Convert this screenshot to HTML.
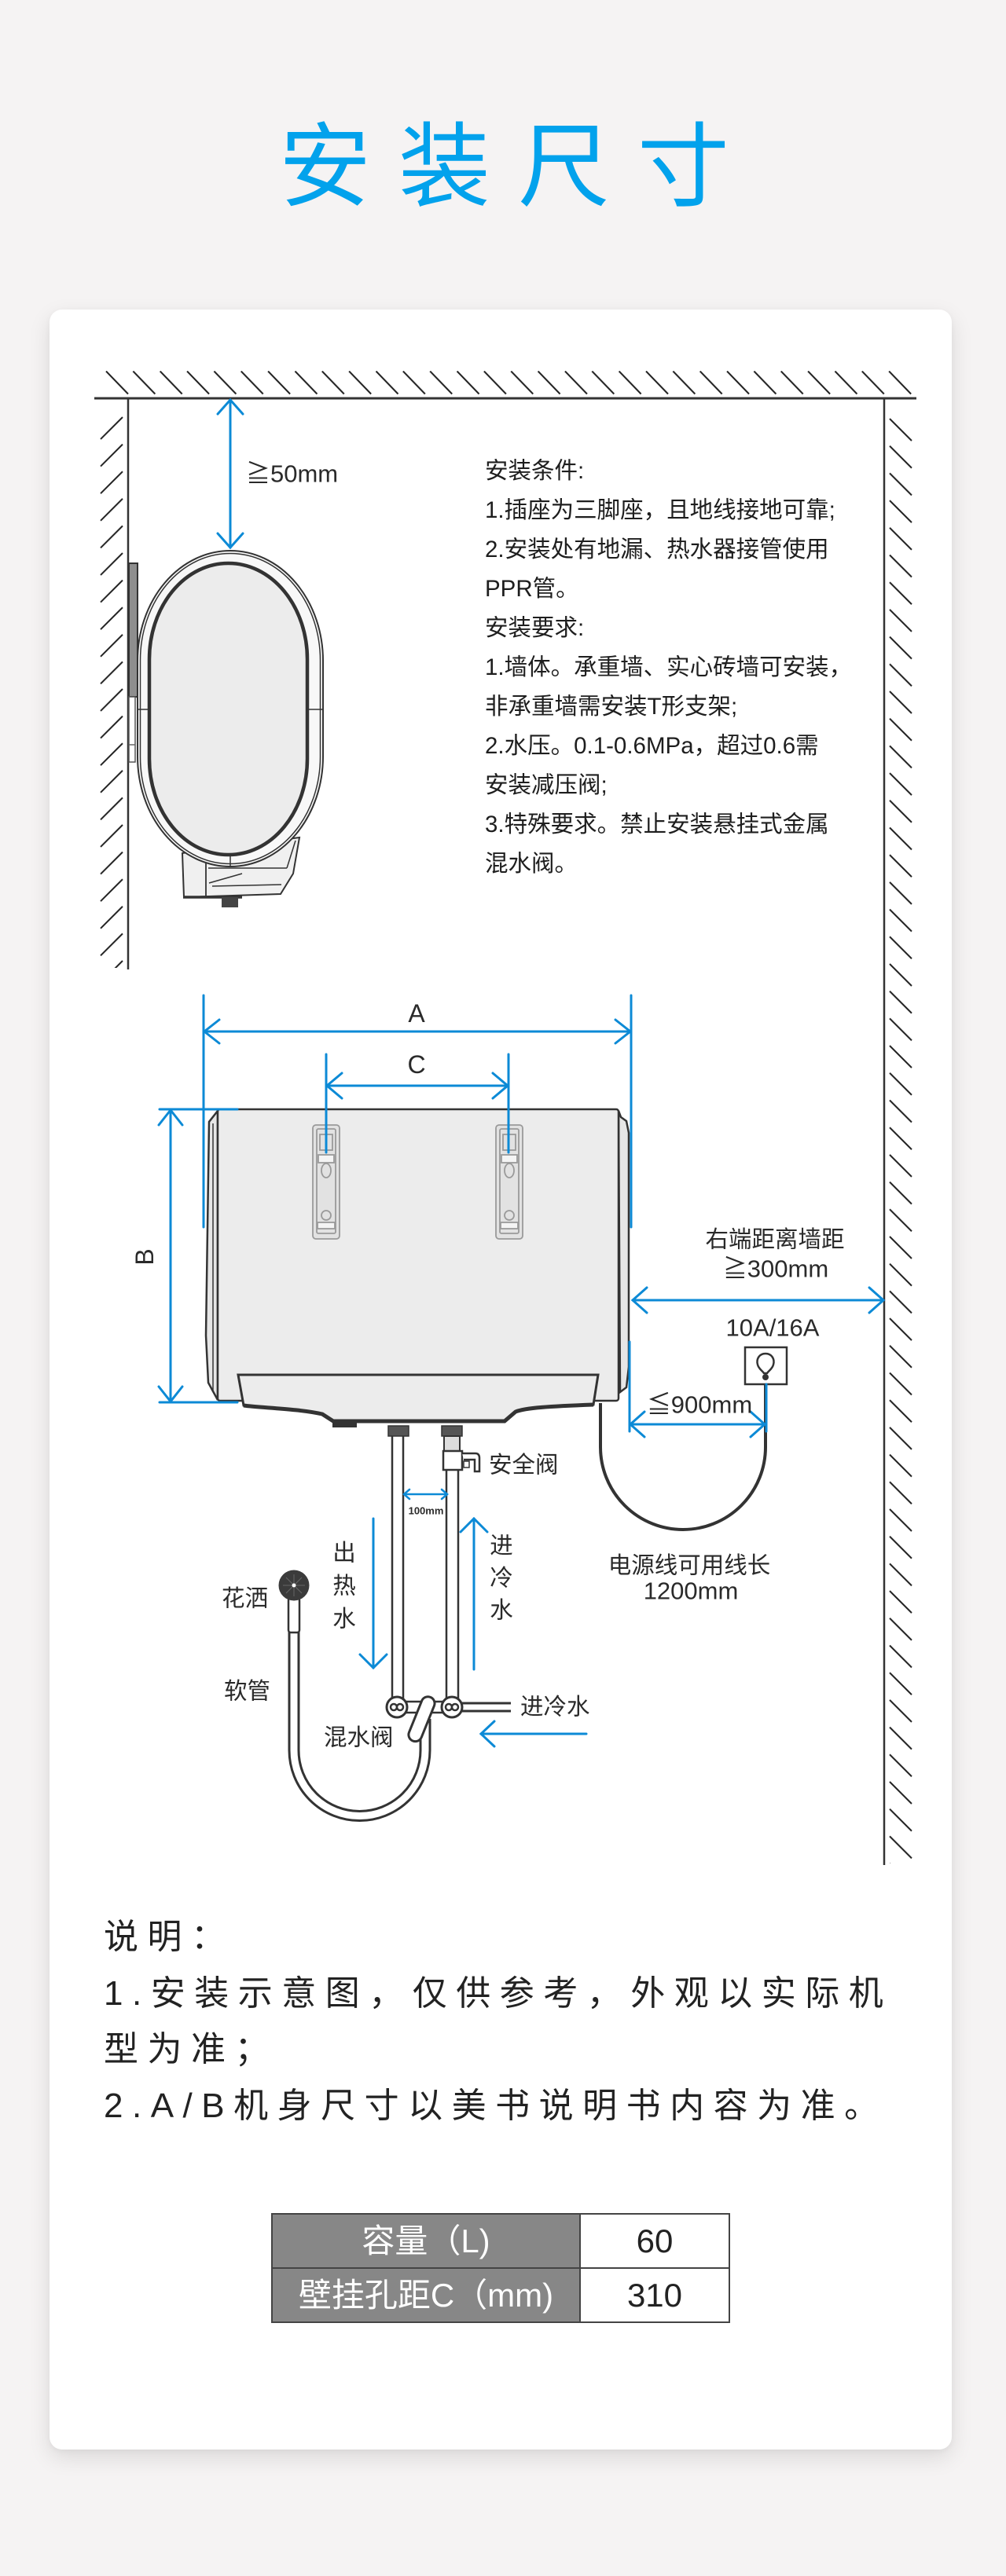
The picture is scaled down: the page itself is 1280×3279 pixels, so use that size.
<!DOCTYPE html>
<html>
<head>
<meta charset="utf-8">
<style>
  html,body{margin:0;padding:0;}
  body{width:1280px;height:3279px;background:#f5f3f3;position:relative;overflow:hidden;
       font-family:"Liberation Sans","Noto Sans CJK SC",sans-serif;}
  .title{position:absolute;left:355px;top:154px;height:117px;line-height:117px;font-size:117px;
         letter-spacing:35px;color:#02a2ec;white-space:nowrap;font-weight:400;
         font-family:"Liberation Sans","Noto Sans CJK SC",sans-serif;}
  .card{position:absolute;left:63px;top:394px;width:1148px;height:2724px;background:#fff;
        border-radius:16px;box-shadow:0 10px 28px rgba(0,0,0,0.11),0 2px 8px rgba(0,0,0,0.04);}
  .req{position:absolute;left:617px;top:575px;font-size:29.5px;line-height:50px;color:#1e1e1e;white-space:pre;font-weight:400;}
  .note{position:absolute;left:132px;top:2430px;font-size:44px;line-height:71.5px;letter-spacing:11.5px;color:#222;white-space:pre;}
  table{position:absolute;left:345px;top:2817px;border-collapse:collapse;}
  td{border:2px solid #444;height:67px;padding:0;text-align:center;font-size:42px;line-height:67px;white-space:nowrap;}
  td.h{background:#878787;color:#fff;width:390px;}
  td.v{background:#fff;color:#222;width:188px;}
  svg{position:absolute;left:0;top:0;}
</style>
</head>
<body>
<div class="title">安装尺寸</div>
<div class="card"></div>

<svg width="1280" height="3279" viewBox="0 0 1280 3279" xmlns="http://www.w3.org/2000/svg">
  <defs>
    <pattern id="ht" patternUnits="userSpaceOnUse" x="134" y="472" width="34.35" height="31">
      <line x1="1" y1="0.5" x2="29" y2="29.5" stroke="#222" stroke-width="2"/>
    </pattern>
    <pattern id="hl" patternUnits="userSpaceOnUse" x="127" y="530" width="31" height="34.6">
      <line x1="29" y1="1" x2="1" y2="29" stroke="#222" stroke-width="2"/>
    </pattern>
    <pattern id="hr" patternUnits="userSpaceOnUse" x="1130" y="532" width="31" height="34.7">
      <line x1="2" y1="1" x2="30" y2="29" stroke="#222" stroke-width="2"/>
    </pattern>
  </defs>

  <!-- walls -->
  <rect x="134" y="472" width="1028" height="31" fill="url(#ht)"/>
  <rect x="127" y="530" width="31" height="702" fill="url(#hl)"/>
  <rect x="1130" y="532" width="31" height="1840" fill="url(#hr)"/>
  <line x1="120" y1="507" x2="1166" y2="507" stroke="#333" stroke-width="3"/>
  <line x1="163" y1="507" x2="163" y2="1234" stroke="#333" stroke-width="2.5"/>
  <line x1="1125" y1="507" x2="1125" y2="2374" stroke="#333" stroke-width="2.5"/>

  <!-- side view heater -->
  <g stroke="#333">
    <rect x="164" y="717" width="11" height="170" fill="#8e8e8e" stroke-width="2"/>
    <rect x="164" y="887" width="8" height="83" fill="#fff" stroke="#555" stroke-width="1.5"/>
    <line x1="164" y1="948" x2="172" y2="948" stroke="#666" stroke-width="1.5"/>
    <polygon points="232,1086 381,1066 373,1112 357,1138 234,1142" fill="#f0f0f0" stroke-width="2"/>
    <line x1="262" y1="1090" x2="262" y2="1141" stroke-width="1.8"/>
    <line x1="265" y1="1105" x2="365" y2="1105" stroke-width="1.5"/>
    <line x1="266" y1="1124" x2="308" y2="1112" stroke-width="1.5"/>
    <line x1="270" y1="1128" x2="358" y2="1126" stroke-width="1.5"/>
    <line x1="365" y1="1105" x2="376" y2="1070" stroke-width="1.5"/>
    <line x1="233" y1="1142" x2="308" y2="1142" stroke-width="3.5"/>
    <rect x="282" y="1142" width="21" height="13" fill="#444" stroke="none"/>
    <rect x="175" y="701" width="236" height="402" rx="118" ry="140" fill="#f8f8f8" stroke-width="2"/>
    <rect x="178.5" y="704.5" width="229" height="395" rx="114" ry="136" fill="none" stroke-width="1.5"/>
    <rect x="190" y="717" width="201" height="371" rx="100" ry="122" fill="#ececec" stroke-width="4.5"/>
    <line x1="175" y1="903" x2="190" y2="903" stroke-width="1.5"/>
    <line x1="391" y1="903" x2="411" y2="903" stroke-width="1.5"/>
    <line x1="293" y1="1088" x2="293" y2="1103" stroke-width="1.5"/>
  </g>

  <!-- >=50mm -->
  <g stroke="#0c8ad6" stroke-width="3" fill="none" stroke-linecap="round">
    <line x1="293" y1="509" x2="293" y2="697"/>
    <polyline points="277,527 293,509 309,527"/>
    <polyline points="277,679 293,697 309,679"/>
  </g>
  <text x="313" y="603" font-size="31" fill="#2a2a2a" dominant-baseline="central" font-family="'Liberation Sans','Noto Sans CJK SC',sans-serif">≧50mm</text>

  <!-- front heater body -->
  <g stroke="#333">
    <path d="M277 1414 L266 1428 L262 1700 L265 1760 L277 1782 Z" fill="#e6e6e6" stroke-width="2.5"/>
    <line x1="271" y1="1430" x2="271" y2="1772" stroke-width="1.5"/>
    <path d="M787 1414 L790 1422 L797 1427 L800 1442 L800 1740 L797 1766 L789 1772 Z" fill="#e6e6e6" stroke-width="2.5"/>
    <rect x="277" y="1412" width="510" height="371" rx="3" fill="#ececec" stroke-width="2.5"/>
    <path d="M303 1750 L761 1750 L755 1788 C700 1790 668 1792 656 1797 L642 1809 L424 1809 L410 1800 C380 1793 330 1792 310 1789 Z" fill="#ececec" stroke-width="3"/>
    <path d="M310 1789 C330 1792 380 1793 410 1800 L424 1809 L642 1809 L656 1797 C668 1792 700 1790 755 1788" fill="none" stroke-width="5"/>
    <rect x="423" y="1809" width="31" height="8" fill="#333" stroke="none"/>
  </g>

  <!-- wall brackets -->
  <g fill="none" stroke="#9a9a9a" stroke-width="1.8">
    <rect x="398" y="1432" width="34" height="145" rx="4" fill="#e2e2e2"/>
    <rect x="403" y="1437" width="24" height="133" rx="2"/>
    <rect x="407" y="1444" width="16" height="20"/>
    <rect x="405" y="1470" width="20" height="10" fill="#f4f4f4"/>
    <ellipse cx="415" cy="1490" rx="6" ry="9"/>
    <circle cx="415" cy="1547" r="6"/>
    <rect x="404" y="1556" width="22" height="8" fill="#f4f4f4"/>
    <rect x="631" y="1432" width="34" height="145" rx="4" fill="#e2e2e2"/>
    <rect x="636" y="1437" width="24" height="133" rx="2"/>
    <rect x="640" y="1444" width="16" height="20"/>
    <rect x="638" y="1470" width="20" height="10" fill="#f4f4f4"/>
    <ellipse cx="648" cy="1490" rx="6" ry="9"/>
    <circle cx="648" cy="1547" r="6"/>
    <rect x="637" y="1556" width="22" height="8" fill="#f4f4f4"/>
  </g>

  <!-- pipes -->
  <g stroke="#333">
    <rect x="499" y="1826" width="14" height="338" fill="#fff" stroke-width="2.5"/>
    <rect x="568" y="1870" width="15" height="294" fill="#fff" stroke-width="2.5"/>
    <rect x="494" y="1815" width="26" height="13" fill="#555" stroke-width="1.5"/>
    <rect x="562" y="1815" width="26" height="13" fill="#555" stroke-width="1.5"/>
    <rect x="565" y="1828" width="20" height="19" fill="#ddd" stroke-width="2"/>
    <rect x="564" y="1847" width="24" height="24" fill="#fff" stroke-width="2.5"/>
    <path d="M588 1850 L605 1850 Q610 1850 610 1856 L610 1873 L604 1873 L604 1858 L590 1858" fill="#fff" stroke-width="2.5"/>
    <rect x="590" y="1860" width="7" height="8" fill="#fff" stroke-width="1.5"/>
    <!-- cold inlet -->
    <line x1="587" y1="2168" x2="650" y2="2168" stroke-width="3"/>
    <line x1="587" y1="2178" x2="650" y2="2178" stroke-width="3"/>
    <!-- hose -->
    <path d="M368 2077 L368 2228 A89.5 89.5 0 0 0 547 2228 L547 2188" fill="none" stroke-width="3"/>
    <path d="M380 2077 L380 2228 A77.5 77.5 0 0 0 535 2228 L535 2188" fill="none" stroke-width="3"/>
    <!-- mixer -->
    <rect x="516" y="2166" width="48" height="14" fill="#fff" stroke-width="2.5"/>
    <circle cx="505" cy="2173" r="13" fill="#fff" stroke-width="3"/>
    <circle cx="501" cy="2173" r="4" fill="#fff" stroke-width="2.5"/>
    <circle cx="509" cy="2173" r="4" fill="#fff" stroke-width="2.5"/>
    <circle cx="575" cy="2173" r="13" fill="#fff" stroke-width="3"/>
    <circle cx="571" cy="2173" r="4" fill="#fff" stroke-width="2.5"/>
    <circle cx="579" cy="2173" r="4" fill="#fff" stroke-width="2.5"/>
    <rect x="528" y="2158" width="17" height="60" rx="8.5" fill="#fff" stroke-width="3" transform="rotate(22 536 2188)"/>
    <!-- shower head -->
    <rect x="367" y="2034" width="14" height="44" rx="3" fill="#fff" stroke-width="2.5"/>
    <circle cx="374" cy="2018" r="19.5" fill="#3b3b3b" stroke="none"/>
    <g stroke="#666" stroke-width="1">
      <line x1="374" y1="2004" x2="374" y2="2032"/>
      <line x1="360" y1="2018" x2="388" y2="2018"/>
      <line x1="364" y1="2008" x2="384" y2="2028"/>
      <line x1="384" y1="2008" x2="364" y2="2028"/>
    </g>
    <circle cx="374" cy="2018" r="2.5" fill="#fff" stroke="none"/>
  </g>

  <!-- power cord & socket -->
  <path d="M764 1786 L764 1842 A105 105 0 0 0 974 1842 L974 1762" fill="none" stroke="#333" stroke-width="4"/>
  <rect x="948" y="1715" width="53" height="47" fill="#fff" stroke="#333" stroke-width="2.5"/>
  <path d="M974 1723 C966 1723 962 1730 964 1737 C965 1742 970 1745 972 1748 L976 1748 C978 1745 983 1742 984 1737 C986 1730 982 1723 974 1723 Z" fill="#fff" stroke="#333" stroke-width="2.5"/>
  <circle cx="974" cy="1753" r="4" fill="#333"/>

  <!-- dimension lines (blue) -->
  <g stroke="#0c8ad6" stroke-width="3" fill="none" stroke-linecap="round">
    <!-- A -->
    <line x1="259" y1="1267" x2="259" y2="1562"/>
    <line x1="803" y1="1267" x2="803" y2="1562"/>
    <line x1="260" y1="1313" x2="802" y2="1313"/>
    <polyline points="279,1298 260,1313 279,1328"/>
    <polyline points="783,1298 802,1313 783,1328"/>
    <!-- C -->
    <line x1="415" y1="1342" x2="415" y2="1467"/>
    <line x1="647" y1="1342" x2="647" y2="1467"/>
    <line x1="416" y1="1382" x2="646" y2="1382"/>
    <polyline points="435,1366 416,1382 435,1398"/>
    <polyline points="627,1366 646,1382 627,1398"/>
    <!-- B -->
    <line x1="203" y1="1412" x2="302" y2="1412"/>
    <line x1="203" y1="1785" x2="302" y2="1785"/>
    <line x1="217" y1="1413" x2="217" y2="1784"/>
    <polyline points="202,1432 217,1413 232,1432"/>
    <polyline points="202,1765 217,1784 232,1765"/>
    <!-- >=300 -->
    <line x1="805" y1="1655" x2="1124" y2="1655"/>
    <polyline points="823,1639 805,1655 823,1671"/>
    <polyline points="1106,1639 1124,1655 1106,1671"/>
    <!-- <=900 -->
    <line x1="801" y1="1708" x2="801" y2="1822"/>
    <line x1="975" y1="1762" x2="975" y2="1822"/>
    <line x1="802" y1="1813" x2="973" y2="1813"/>
    <polyline points="820,1797 802,1813 820,1829"/>
    <polyline points="955,1797 973,1813 955,1829"/>
    <!-- 100mm -->
    <line x1="514" y1="1902" x2="569" y2="1902" stroke-width="2.5"/>
    <polyline points="521,1896 514,1902 521,1908" stroke-width="2.5"/>
    <polyline points="562,1896 569,1902 562,1908" stroke-width="2.5"/>
    <!-- flows -->
    <line x1="475" y1="1933" x2="475" y2="2123"/>
    <polyline points="458,2106 475,2123 492,2106"/>
    <line x1="603" y1="1933" x2="603" y2="2125"/>
    <polyline points="586,1950 603,1933 620,1950"/>
    <line x1="612" y1="2207" x2="746" y2="2207"/>
    <polyline points="629,2191 612,2207 629,2223"/>
  </g>

  <!-- labels -->
  <g fill="#2a2a2a" font-family="'Liberation Sans','Noto Sans CJK SC',sans-serif" dominant-baseline="central">
    <text x="530" y="1290" font-size="32" text-anchor="middle">A</text>
    <text x="530" y="1355" font-size="32" text-anchor="middle">C</text>
    <text transform="translate(184 1600) rotate(-90)" font-size="32" text-anchor="middle">B</text>
    <text x="986" y="1578" font-size="29.5" text-anchor="middle">右端距离墙距</text>
    <text x="987" y="1615" font-size="31" text-anchor="middle">≧300mm</text>
    <text x="983" y="1690" font-size="31" text-anchor="middle">10A/16A</text>
    <text x="890" y="1788" font-size="31" text-anchor="middle">≦900mm</text>
    <text x="877" y="1993" font-size="29.5" text-anchor="middle">电源线可用线长</text>
    <text x="879" y="2025" font-size="31" text-anchor="middle">1200mm</text>
    <text x="622" y="1865" font-size="29.5">安全阀</text>
    <text x="542" y="1923" font-size="13" font-weight="bold" text-anchor="middle">100mm</text>
    <text x="438" y="1977" font-size="29.5" text-anchor="middle">出</text>
    <text x="438" y="2019" font-size="29.5" text-anchor="middle">热</text>
    <text x="438" y="2061" font-size="29.5" text-anchor="middle">水</text>
    <text x="638" y="1968" font-size="29.5" text-anchor="middle">进</text>
    <text x="638" y="2009" font-size="29.5" text-anchor="middle">冷</text>
    <text x="638" y="2050" font-size="29.5" text-anchor="middle">水</text>
    <text x="282" y="2035" font-size="29.5">花洒</text>
    <text x="285" y="2153" font-size="29.5">软管</text>
    <text x="412" y="2212" font-size="29.5">混水阀</text>
    <text x="662" y="2173" font-size="29.5">进冷水</text>
  </g>
</svg>

<div class="req">安装条件:
1.插座为三脚座，且地线接地可靠;
2.安装处有地漏、热水器接管使用
PPR管。
安装要求:
1.墙体。承重墙、实心砖墙可安装，
非承重墙需安装T形支架;
2.水压。0.1-0.6MPa，超过0.6需
安装减压阀;
3.特殊要求。禁止安装悬挂式金属
混水阀。</div>

<div class="note">说明：
1.安装示意图，仅供参考，外观以实际机
型为准；
2.A/B机身尺寸以美书说明书内容为准。</div>

<table>
  <tr><td class="h">容量（L)</td><td class="v">60</td></tr>
  <tr><td class="h">壁挂孔距C（mm)</td><td class="v">310</td></tr>
</table>
</body>
</html>
